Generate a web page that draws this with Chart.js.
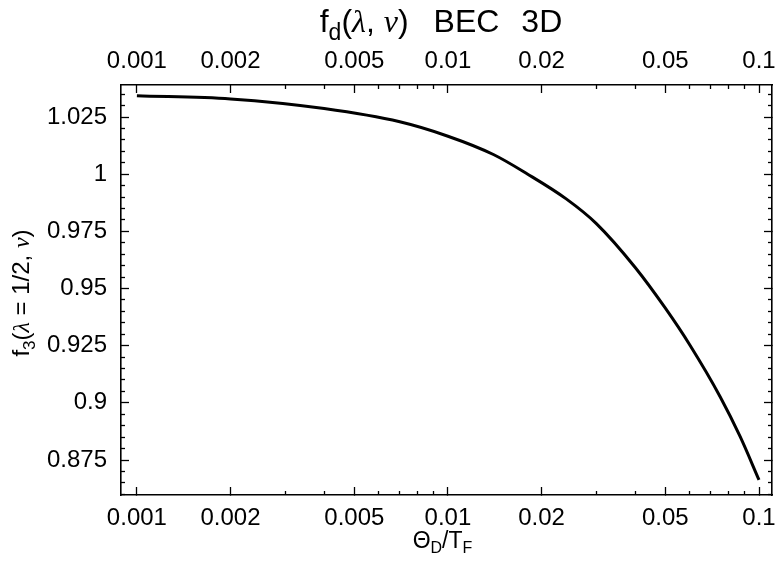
<!DOCTYPE html>
<html>
<head>
<meta charset="utf-8">
<script src="https://cdn.jsdelivr.net/npm/chart.js@4"></script>
<style>
  body { margin: 0; background: #fff; }
  #wrap { width: 777px; height: 564px; }
</style>
</head>
<body>
<div id="wrap"><canvas id="chart" width="777" height="564"></canvas></div>
<script>
// curve: Theta_D / T_F  vs  f_3(lambda = 1/2, nu)
const thetaRatio = [0.001, 0.002, 0.004, 0.007, 0.01, 0.014, 0.018, 0.024, 0.03, 0.04, 0.05, 0.06, 0.075, 0.087, 0.1];
const f3Values = [1.0343, 1.0329, 1.0287, 1.0229, 1.0166, 1.0086, 1.0001, 0.9892, 0.9784, 0.9592, 0.9414, 0.9252, 0.9027, 0.8852, 0.8663];

// tick marks
const xMajorTicks = [0.001, 0.002, 0.005, 0.01, 0.02, 0.05, 0.1];
const xTickLabels = ["0.001", "0.002", "0.005", "0.01", "0.02", "0.05", "0.1"];
const xMinorTicks = [0.003, 0.004, 0.006, 0.007, 0.008, 0.009, 0.03, 0.04, 0.06, 0.07, 0.08, 0.09];
const yMajorTicks = [0.875, 0.9, 0.925, 0.95, 0.975, 1, 1.025];
const yTickLabels = ["0.875", "0.9", "0.925", "0.95", "0.975", "1", "1.025"];
const yMinorTicks = [0.86, 0.865, 0.87, 0.88, 0.885, 0.89, 0.895, 0.905, 0.91, 0.915, 0.92, 0.93, 0.935, 0.94, 0.945,
  0.955, 0.96, 0.965, 0.97, 0.98, 0.985, 0.99, 0.995, 1.005, 1.01, 1.015, 1.02, 1.03, 1.035];

const X_MIN = 0.000889, X_MAX = 0.1101;
const Y_MIN = 0.8597, Y_MAX = 1.039;

const SANS = "'Liberation Sans', Arial, sans-serif";
const SERIF = "'Liberation Serif', 'Times New Roman', serif";

// one axis: major ticks (longer, maybe labelled) or minor ticks (short, never labelled)
function makeAxis(opts) {
  const horizontal = opts.position === "top" || opts.position === "bottom";
  return {
    type: horizontal ? "logarithmic" : "linear",
    position: opts.position,
    min: horizontal ? X_MIN : Y_MIN,
    max: horizontal ? X_MAX : Y_MAX,
    weight: opts.weight,
    afterBuildTicks: (scale) => {
      scale.ticks = opts.ticks.map((v) => ({ value: v }));
    },
    afterFit: (scale) => {
      if (horizontal) scale.height = opts.size;
      else scale.width = opts.size;
      // labels may hang over the frame, do not shrink the plot for them
      scale.paddingLeft = 0;
      scale.paddingRight = 0;
      scale.paddingTop = 0;
      scale.paddingBottom = 0;
    },
    border: { display: opts.border, color: "#000", width: 1.6 },
    grid: {
      drawOnChartArea: false,
      drawTicks: true,
      tickLength: opts.tickLength,
      tickColor: "#000",
      tickWidth: 1.3,
    },
    ticks: {
      display: !!opts.labels,
      autoSkip: false,
      maxRotation: 0,
      minRotation: 0,
      padding: opts.padding || 0,
      color: "#000",
      font: { family: SANS, size: 24 },
      callback: (value, index) => (opts.labels ? opts.labels[index] : ""),
    },
  };
}

// draws a run of text pieces (font, text, baseline shift, or a blank gap) starting at x
function drawPieces(ctx, pieces, x, y) {
  pieces.forEach((p) => {
    if (p.gap) {
      x += p.gap;
      return;
    }
    ctx.font = p.font;
    ctx.fillText(p.text, x, y + (p.dy || 0));
    x += ctx.measureText(p.text).width;
  });
}

function piecesWidth(ctx, pieces) {
  let w = 0;
  pieces.forEach((p) => {
    if (p.gap) {
      w += p.gap;
      return;
    }
    ctx.font = p.font;
    w += ctx.measureText(p.text).width;
  });
  return w;
}

const titlesPlugin = {
  id: "titles",
  afterDraw(chart) {
    const ctx = chart.ctx;
    const area = chart.chartArea;
    ctx.save();
    ctx.fillStyle = "#000";
    ctx.textBaseline = "alphabetic";
    ctx.textAlign = "left";

    // title  f_d(λ, ν)  BEC  3D
    const title = [
      { text: "f", font: "32px " + SANS },
      { text: "d", font: "23px " + SANS, dy: 8 },
      { text: "(", font: "32px " + SANS },
      { text: "λ", font: "italic 32px " + SERIF },
      { text: ", ", font: "32px " + SANS },
      { text: "ν", font: "italic 32px " + SERIF },
      { text: ")", font: "32px " + SANS },
      { gap: 25 },
      { text: "BEC", font: "32px " + SANS },
      { gap: 22 },
      { text: "3D", font: "32px " + SANS },
    ];
    const tw = piecesWidth(ctx, title);
    drawPieces(ctx, title, 441 - tw / 2, 32);

    // x axis title  Θ_D/T_F
    const xTitle = [
      { text: "Θ", font: "23px " + SANS },
      { text: "D", font: "16px " + SANS, dy: 5 },
      { text: "/T", font: "23px " + SANS },
      { text: "F", font: "16px " + SANS, dy: 5 },
    ];
    const xw = piecesWidth(ctx, xTitle);
    drawPieces(ctx, xTitle, (area.left + area.right) / 2 - 4 - xw / 2, 548);

    // y axis title  f_3(λ = 1/2, ν), rotated
    const yTitle = [
      { text: "f", font: "24px " + SANS },
      { text: "3", font: "17px " + SANS, dy: 6 },
      { text: "(", font: "24px " + SANS },
      { text: "λ", font: "italic 24px " + SERIF },
      { text: " = 1/2, ", font: "24px " + SANS },
      { text: "ν", font: "italic 24px " + SERIF },
      { text: ")", font: "24px " + SANS },
    ];
    const yw = piecesWidth(ctx, yTitle);
    ctx.translate(29, 293);
    ctx.rotate(-Math.PI / 2);
    drawPieces(ctx, yTitle, -yw / 2, 0);
    ctx.restore();
  },
};

const points = thetaRatio.map((t, i) => ({ x: t, y: f3Values[i] }));

new Chart(document.getElementById("chart"), {
  type: "line",
  data: {
    datasets: [
      {
        data: points,
        xAxisID: "x",
        yAxisID: "y",
        borderColor: "#000",
        borderWidth: 3,
        pointRadius: 0,
        fill: false,
        cubicInterpolationMode: "monotone",
      },
    ],
  },
  options: {
    responsive: false,
    animation: false,
    layout: { padding: 0 },
    plugins: { legend: { display: false }, tooltip: { enabled: false } },
    scales: {
      x: makeAxis({ position: "bottom", ticks: xMajorTicks, labels: xTickLabels, size: 69, weight: 1, tickLength: -8, padding: 17, border: true }),
      xMinor: makeAxis({ position: "bottom", ticks: xMinorTicks, size: 0, weight: 0, tickLength: -4, border: false }),
      x2: makeAxis({ position: "top", ticks: xMajorTicks, labels: xTickLabels, size: 85, weight: 1, tickLength: -8, padding: 17, border: true }),
      x2Minor: makeAxis({ position: "top", ticks: xMinorTicks, size: 0, weight: 0, tickLength: -4, border: false }),
      y: makeAxis({ position: "left", ticks: yMajorTicks, labels: yTickLabels, size: 121, weight: 1, tickLength: -8, padding: 22, border: true }),
      yMinor: makeAxis({ position: "left", ticks: yMinorTicks, size: 0, weight: 0, tickLength: -4, border: false }),
      y2: makeAxis({ position: "right", ticks: yMajorTicks, size: 5, weight: 1, tickLength: -8, border: true }),
      y2Minor: makeAxis({ position: "right", ticks: yMinorTicks, size: 0, weight: 0, tickLength: -4, border: false }),
    },
  },
  plugins: [titlesPlugin],
});
</script>
</body>
</html>
